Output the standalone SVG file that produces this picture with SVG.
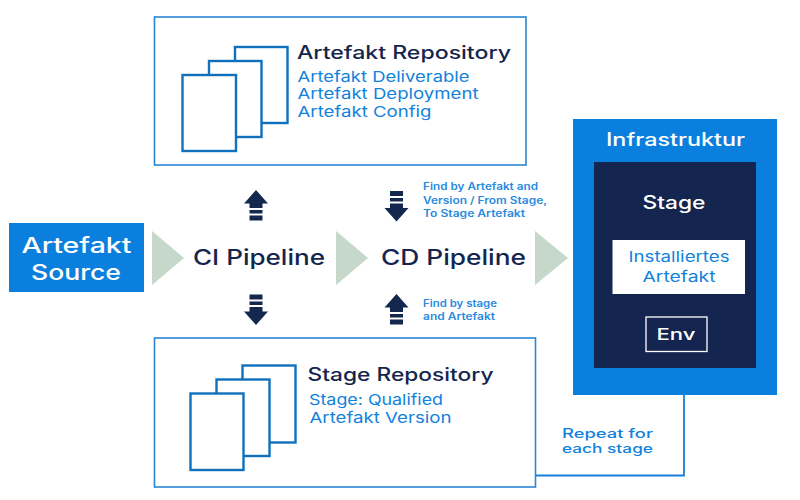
<svg xmlns="http://www.w3.org/2000/svg" width="800" height="500" viewBox="0 0 800 500">
<style>
text{font-family:"Inter","Liberation Sans",sans-serif;font-weight:400}
.box{fill:#fff;stroke:#2a86d6;stroke-width:1.6}
.doc{fill:#fff;stroke:#0f71bd;stroke-width:2.4}
.tri{fill:#c5d8c9}
.arr{fill:#14274f}
.h{fill:#14264d;font-size:18px;font-weight:500}
.b{fill:#1282dc;font-size:15px}
.r{fill:#1282dc;font-size:12.500px;font-weight:500}
.s{fill:#2a8ade;font-size:10px;font-weight:600}
.p{fill:#14264d;font-size:21px;font-weight:500}
.w{fill:#fff;font-weight:500}
</style>
<defs>
<g id="up"><path d="M0 0L12 13.500H6.500V18H-6.500V13.500H-12Z"/><rect x="-6.500" y="20" width="13" height="3.500"/><rect x="-6.500" y="25.500" width="13" height="5"/></g>
<g id="dn"><path d="M0 0L12 -13.500H6.500V-18H-6.500V-13.500H-12Z"/><rect x="-6.500" y="-23.500" width="13" height="3.500"/><rect x="-6.500" y="-30.500" width="13" height="5"/></g>
</defs>
<rect width="800" height="500" fill="#fff"/>
<g id="connectors" fill="none" stroke="#1a7fd8" stroke-width="1.800">
<path d="M684 395V475.500H535"/>
</g>
<g id="flow-arrows">
<path class="tri" d="M152 231L184 258L152 285Z"/>
<path class="tri" d="M336 231L368 258L336 285Z"/>
<path class="tri" d="M535 231L568 258L535 285Z"/>
<use href="#up" class="arr" x="256" y="190"/>
<use href="#dn" class="arr" x="256" y="325"/>
<use href="#dn" class="arr" x="396.500" y="221.500"/>
<use href="#up" class="arr" x="396.500" y="294"/>
</g>
<g id="artefakt-repository">
<rect class="box" x="154.500" y="17" width="371.500" height="148"/>
<rect class="doc" x="235" y="47" width="52.500" height="76"/>
<rect class="doc" x="209" y="61" width="52.500" height="76"/>
<rect class="doc" x="182.500" y="75" width="53.500" height="76"/>
<text class="h" x="297" y="58.500" textLength="214" lengthAdjust="spacingAndGlyphs">Artefakt Repository</text>
<text class="b" x="297.500" y="81.500" textLength="172" lengthAdjust="spacingAndGlyphs">Artefakt Deliverable</text>
<text class="b" x="297.500" y="99" textLength="181" lengthAdjust="spacingAndGlyphs">Artefakt Deployment</text>
<text class="b" x="297.500" y="116.500" textLength="134" lengthAdjust="spacingAndGlyphs">Artefakt Config</text>
</g>
<g id="stage-repository">
<rect class="box" x="154.500" y="338" width="381" height="149"/>
<rect class="doc" x="242.500" y="365.500" width="53" height="77"/>
<rect class="doc" x="216.500" y="379.500" width="53" height="76.500"/>
<rect class="doc" x="190.500" y="393.500" width="53" height="76.500"/>
<text class="h" x="307.500" y="380.500" textLength="186" lengthAdjust="spacingAndGlyphs">Stage Repository</text>
<text class="b" x="309" y="405" textLength="134" lengthAdjust="spacingAndGlyphs">Stage: Qualified</text>
<text class="b" x="309.500" y="422.500" textLength="142" lengthAdjust="spacingAndGlyphs">Artefakt Version</text>
</g>
<g id="artefakt-source">
<rect x="9" y="223" width="135" height="69" fill="#0a7fdd"/>
<text class="w" x="21.500" y="253" font-size="21" textLength="110" lengthAdjust="spacingAndGlyphs">Artefakt</text>
<text class="w" x="31" y="280" font-size="21" textLength="90" lengthAdjust="spacingAndGlyphs">Source</text>
</g>
<g id="ci-pipeline"><text class="p" x="193" y="265" textLength="132" lengthAdjust="spacingAndGlyphs">CI Pipeline</text></g>
<g id="cd-pipeline"><text class="p" x="381" y="265" textLength="145" lengthAdjust="spacingAndGlyphs">CD Pipeline</text></g>
<g id="find-labels">
<text class="s" x="423" y="190" textLength="115" lengthAdjust="spacingAndGlyphs">Find by Artefakt and</text>
<text class="s" x="423" y="203.500" textLength="124" lengthAdjust="spacingAndGlyphs">Version / From Stage,</text>
<text class="s" x="423" y="217" textLength="102" lengthAdjust="spacingAndGlyphs">To Stage Artefakt</text>
<text class="s" x="423" y="307" textLength="74" lengthAdjust="spacingAndGlyphs">Find by stage</text>
<text class="s" x="423" y="320" textLength="72" lengthAdjust="spacingAndGlyphs">and Artefakt</text>
</g>
<g id="infrastruktur">
<rect x="573" y="119" width="204" height="276" fill="#0a7fdd"/>
<text class="w" x="606" y="146" font-size="18" textLength="139" lengthAdjust="spacingAndGlyphs">Infrastruktur</text>
</g>
<g id="stage">
<rect x="594" y="162" width="162" height="206" fill="#14264f"/>
<text class="w" x="642.500" y="209" font-size="18" textLength="63" lengthAdjust="spacingAndGlyphs">Stage</text>
</g>
<g id="installiertes-artefakt">
<rect x="612.500" y="240" width="132.500" height="54" fill="#fff"/>
<text class="b" x="628.500" y="262" textLength="101" lengthAdjust="spacingAndGlyphs">Installiertes</text>
<text class="b" x="642.500" y="282" textLength="73" lengthAdjust="spacingAndGlyphs">Artefakt</text>
</g>
<g id="env">
<rect x="646" y="317" width="61" height="34.500" fill="none" stroke="#fff" stroke-width="1.300"/>
<text class="w" x="656.500" y="340" font-size="16.500" textLength="39" lengthAdjust="spacingAndGlyphs">Env</text>
</g>
<g id="repeat-label">
<text class="r" x="562" y="437.500" textLength="91" lengthAdjust="spacingAndGlyphs">Repeat for</text>
<text class="r" x="562" y="453" textLength="91" lengthAdjust="spacingAndGlyphs">each stage</text>
</g>
</svg>
